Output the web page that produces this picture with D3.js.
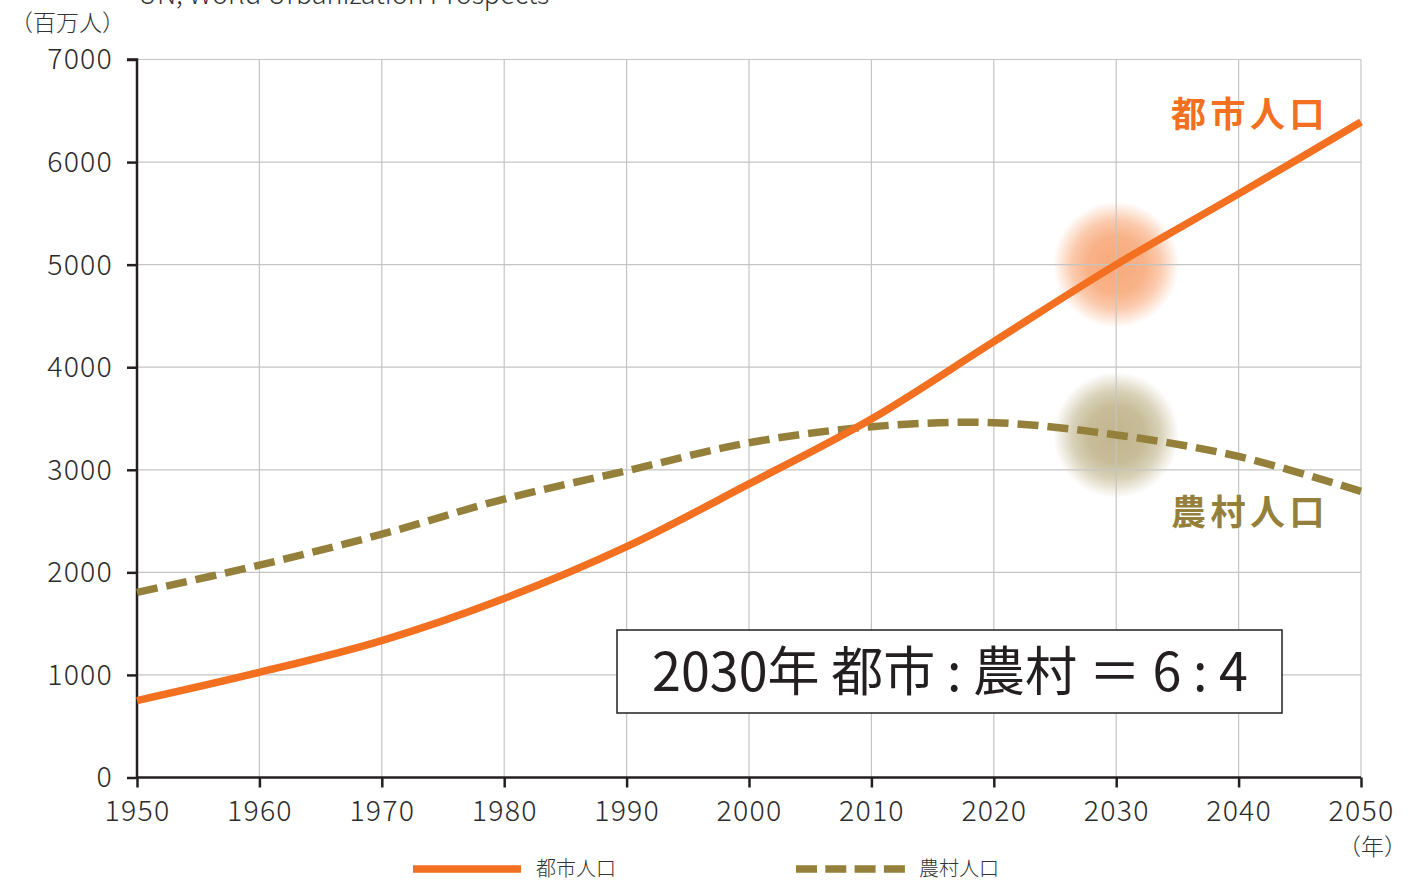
<!DOCTYPE html>
<html>
<head>
<meta charset="utf-8">
<script src="https://cdn.jsdelivr.net/npm/d3@7"></script>
<style>
  html, body { margin: 0; padding: 0; background: #fff; }
  svg { display: block; }
  text { font-family: "Noto Sans CJK JP", "Noto Sans", sans-serif; }
</style>
</head>
<body>
<svg id="chart" width="1417" height="881"></svg>
<script>
// World urban / rural population, millions (UN, World Urbanization Prospects)
const years = [1950, 1960, 1970, 1980, 1990, 2000, 2010, 2020, 2030, 2040, 2050];
const urban = [750, 1025, 1335, 1745, 2250, 2862, 3495, 4250, 5000, 5690, 6390];
const rural = [1805, 2070, 2372, 2715, 2990, 3264, 3420, 3459, 3340, 3130, 2790];
const yTicks = [0, 1000, 2000, 3000, 4000, 5000, 6000, 7000];
const xTicks = [1950, 1960, 1970, 1980, 1990, 2000, 2010, 2020, 2030, 2040, 2050];
const seriesNames = ["都市人口", "農村人口"];
const highlightYear = 2030;
const noteText = "2030年 都市 : 農村 ＝ 6 : 4";

const ORANGE = "#F37021";
const OLIVE = "#94803A";
const INK = "#231f20";
const NUM_FONT = "Roboto, 'Liberation Sans', sans-serif";

const svg = d3.select("#chart");
const x = d3.scaleLinear().domain([1950, 2050]).range([137, 1361]);
const y = d3.scaleLinear().domain([0, 7000]).range([777.5, 59.5]);

// gradients for the soft highlight discs
const defs = svg.append("defs");
function glow(id, color, a) {
  const g = defs.append("radialGradient").attr("id", id);
  [[0, 1], [0.45, 0.9], [0.7, 0.62], [0.88, 0.25], [1, 0]].forEach(([o, k]) =>
    g.append("stop").attr("offset", o).attr("stop-color", color).attr("stop-opacity", a * k));
}
glow("glowUrban", ORANGE, 0.6);
glow("glowRural", OLIVE, 0.58);

// highlight discs at 2030 (under the grid)
const hi = years.indexOf(highlightYear);
svg.append("circle").attr("cx", x(highlightYear)).attr("cy", y(urban[hi]))
  .attr("r", 63).attr("fill", "url(#glowUrban)");
svg.append("circle").attr("cx", x(highlightYear)).attr("cy", y(rural[hi]))
  .attr("r", 63).attr("fill", "url(#glowRural)");

// grid
const grid = svg.append("g").attr("stroke", "#c4c4c4").attr("stroke-width", 1.2);
grid.selectAll("line.h").data(yTicks.filter(d => d > 0)).join("line")
  .attr("x1", x(1950)).attr("x2", x(2050))
  .attr("y1", d => y(d)).attr("y2", d => y(d));
grid.selectAll("line.v").data(xTicks.filter(d => d > 1950)).join("line")
  .attr("x1", d => x(d)).attr("x2", d => x(d))
  .attr("y1", y(7000)).attr("y2", y(0));

// axes
const yAxis = d3.axisLeft(y).tickValues(yTicks).tickSize(10).tickPadding(14).tickFormat(d3.format("d"));
const xAxis = d3.axisBottom(x).tickValues(xTicks).tickSize(10).tickPadding(13).tickFormat(d3.format("d"));

function styleAxis(g) {
  g.select(".domain").attr("stroke", INK).attr("stroke-width", 2.5);
  g.selectAll(".tick line").attr("stroke", INK).attr("stroke-width", 2.5);
  g.selectAll(".tick text").attr("fill", "#2b2b2b").attr("font-size", 28.5)
    .attr("font-weight", 300).attr("font-family", NUM_FONT).attr("letter-spacing", 1.2);
}
svg.append("g").attr("transform", `translate(${x(1950)},0)`).call(yAxis)
  .call(g => g.select(".domain").attr("d", `M-10,${y(7000)}H0V${y(0)}`))
  .call(styleAxis)
  .call(g => g.selectAll(".tick text").attr("dy", "0.33em"));
svg.append("g").attr("transform", `translate(0,${y(0)})`).call(xAxis)
  .call(g => g.select(".domain").attr("d", `M${x(1950)},0H${x(2050)}`))
  .call(styleAxis);

// series lines
const line = d3.line().x((d, i) => x(years[i])).y(d => y(d)).curve(d3.curveCatmullRom.alpha(0.5));
svg.append("path").datum(rural).attr("d", line)
  .attr("fill", "none").attr("stroke", OLIVE).attr("stroke-width", 7.5)
  .attr("stroke-dasharray", "21,9");
svg.append("path").datum(urban).attr("d", line)
  .attr("fill", "none").attr("stroke", ORANGE).attr("stroke-width", 7.5);

// series labels
svg.append("text").attr("x", 1171).attr("y", 127).text(seriesNames[0])
  .attr("fill", ORANGE).attr("font-size", 35).attr("font-weight", 700).attr("letter-spacing", 4.5);
svg.append("text").attr("x", 1171).attr("y", 525).text(seriesNames[1])
  .attr("fill", OLIVE).attr("font-size", 35).attr("font-weight", 700).attr("letter-spacing", 4.5);

// annotation box
svg.append("rect").attr("x", 617).attr("y", 630).attr("width", 665).attr("height", 83)
  .attr("fill", "#fff").attr("stroke", INK).attr("stroke-width", 1.5);
svg.append("text").attr("x", 652).attr("y", 691).text(noteText)
  .attr("fill", INK).attr("font-size", 53)
  .attr("textLength", 596).attr("lengthAdjust", "spacingAndGlyphs");

// unit labels and source
svg.append("text").attr("x", 10).attr("y", 31).text("（百万人）")
  .attr("fill", "#333").attr("font-size", 23).attr("font-weight", 300);
svg.append("text").attr("x", 1338).attr("y", 855).text("（年）")
  .attr("fill", "#333").attr("font-size", 23).attr("font-weight", 300);
svg.append("text").attr("x", 138).attr("y", 4).text("UN, World Urbanization Prospects")
  .attr("fill", "#333").attr("font-size", 27).attr("font-family", NUM_FONT).attr("font-weight", 300);

// legend
svg.append("line").attr("x1", 413).attr("x2", 521).attr("y1", 869).attr("y2", 869)
  .attr("stroke", ORANGE).attr("stroke-width", 7.5);
svg.append("text").attr("x", 536).attr("y", 876).text(seriesNames[0])
  .attr("fill", "#333").attr("font-size", 20).attr("font-weight", 300);
svg.append("line").attr("x1", 796).attr("x2", 905).attr("y1", 869).attr("y2", 869)
  .attr("stroke", OLIVE).attr("stroke-width", 7.5).attr("stroke-dasharray", "21,8.3");
svg.append("text").attr("x", 919).attr("y", 876).text(seriesNames[1])
  .attr("fill", "#333").attr("font-size", 20).attr("font-weight", 300);
</script>
</body>
</html>
